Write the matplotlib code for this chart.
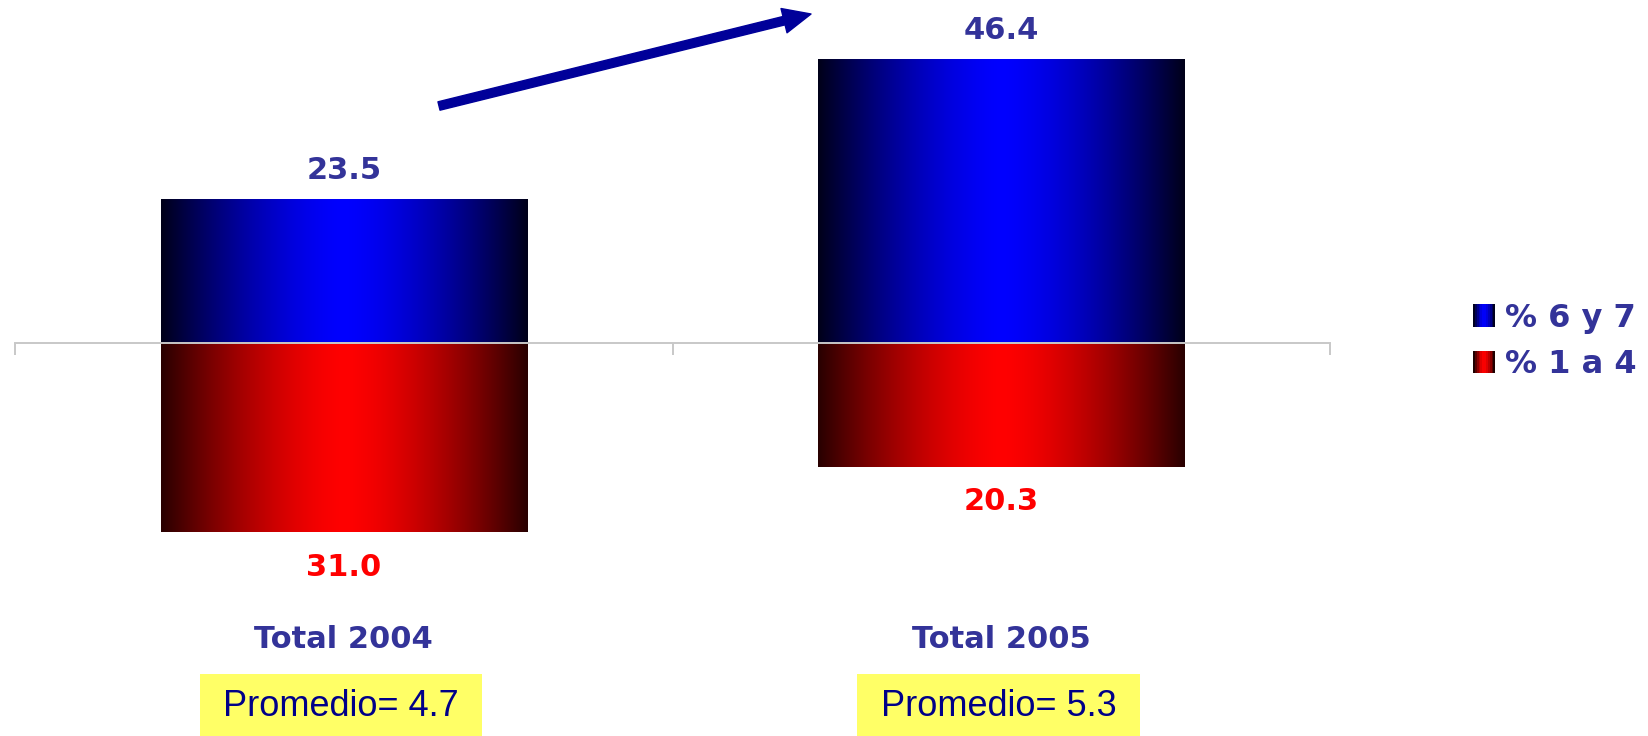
import matplotlib
matplotlib.use("Agg")
import matplotlib.pyplot as plt
import matplotlib.transforms as mtransforms
import numpy as np
from matplotlib.legend_handler import HandlerBase
from matplotlib.patches import FancyArrowPatch, Rectangle

categories = ["Total 2004", "Total 2005"]
pct_6_7 = [23.5, 46.4]
pct_1_4 = [31.0, 20.3]
promedio = [4.7, 5.3]
series_names = ["% 6 y 7", "% 1 a 4"]

LABEL_BLUE = "#333399"
NAVY = "#000099"


def gradient_row(rgb, n=256, edge=0.12):
    """Horizontal gradient: dark at the edges, full colour in the middle."""
    t = np.abs(np.linspace(-1, 1, n))
    k = edge + (1 - edge) * (1 - t ** 1.5)
    return np.array(rgb)[None, None, :] * k[None, :, None]


def fill_gradient(ax, patch, rgb, edge):
    bb = patch.get_bbox()
    ax.imshow(
        gradient_row(rgb, edge=edge),
        extent=[bb.x0, bb.x1, bb.y0, bb.y1],
        aspect="auto",
        interpolation="bilinear",
        zorder=2,
    )


class GradientHandler(HandlerBase):
    def create_artists(self, legend, orig_handle, xdescent, ydescent,
                       width, height, fontsize, trans):
        rgb = np.array(orig_handle.get_facecolor()[:3])
        n = 12
        t = np.abs(np.linspace(-1, 1, n))
        k = 0.12 + 0.88 * (1 - t ** 1.5)
        artists = []
        for i in range(n):
            r = Rectangle((-xdescent + i * width / n, -ydescent), width / n * 1.05,
                          height, facecolor=rgb * k[i], edgecolor="none",
                          transform=trans)
            artists.append(r)
        return artists


fig = plt.figure(figsize=(16.48, 7.36), dpi=100)
ax = fig.add_axes([15 / 1648, 0, 1315 / 1648, 1])
ax.set_xlim(-0.5, 1.5)
ax.set_ylim(-64.4, 56.2)

x = np.arange(len(categories))
width = 0.557

top = ax.bar(x, pct_6_7, width=width, color="none", edgecolor="none", linewidth=0)
bottom = ax.bar(x, [-v for v in pct_1_4], width=width, color="none",
                edgecolor="none", linewidth=0)
for p in top.patches:
    fill_gradient(ax, p, (0, 0, 1), 0.10)
for p in bottom.patches:
    fill_gradient(ax, p, (1, 0, 0), 0.16)

# axis line at zero, drawn over the bars
for s in ["top", "right", "left"]:
    ax.spines[s].set_visible(False)
ax.spines["bottom"].set_position(("data", 0))
ax.spines["bottom"].set_color("#C8C8C8")
ax.spines["bottom"].set_linewidth(1.4)
ax.spines["bottom"].set_zorder(5)
ax.set_xticks([-0.5, 0.5, 1.5])
ax.set_xticklabels([])
ax.tick_params(axis="x", direction="out", length=8.5, width=1.4, color="#C8C8C8")
ax.set_yticks([])

for xi, v in zip(x, pct_6_7):
    ax.annotate(f"{v:.1f}", (xi, v), xytext=(0, 29), textcoords="offset pixels",
                ha="center", va="center", fontsize=22, fontweight="bold",
                color=LABEL_BLUE)
for xi, v in zip(x, pct_1_4):
    ax.annotate(f"{v:.1f}", (xi, -v), xytext=(0, -35), textcoords="offset pixels",
                ha="center", va="center", fontsize=22, fontweight="bold",
                color="#FF0000")

trans = mtransforms.blended_transform_factory(ax.transData, ax.transAxes)
box_w = 0.43
for xi, cat, pm in zip(x, categories, promedio):
    ax.text(xi, 1 - 639 / 736, cat, transform=trans, ha="center", va="center",
            fontsize=22, fontweight="bold", color=LABEL_BLUE)
    ax.add_patch(Rectangle((xi - 0.004 - box_w / 2, 0), box_w, 62 / 736,
                           transform=trans, facecolor="#FFFF66",
                           edgecolor="none", zorder=3))
    ax.text(xi - 0.004, 29 / 736, f"Promedio= {pm:.1f}", transform=trans,
            ha="center", va="center", fontsize=26, family="Liberation Sans",
            color="#000088", zorder=4)

# trend arrow
arrow = FancyArrowPatch(
    (439 / 1648, 1 - 106 / 736), (811 / 1648, 1 - 14 / 736),
    transform=fig.transFigure,
    arrowstyle="simple,head_length=2.0,head_width=1.8,tail_width=0.62",
    mutation_scale=10, color=NAVY, shrinkA=0, shrinkB=0,
)
fig.patches.append(arrow)

handles = [Rectangle((0, 0), 1, 1, facecolor=(0, 0, 1)),
           Rectangle((0, 0), 1, 1, facecolor=(1, 0, 0))]
leg = fig.legend(handles, series_names, loc="center left",
                 bbox_to_anchor=(1473 / 1648, 1 - 341.5 / 736),
                 frameon=False, borderpad=0, borderaxespad=0,
                 handlelength=0.7, handleheight=0.7, handletextpad=0.3,
                 labelspacing=0.5, handler_map={Rectangle: GradientHandler()},
                 prop={"size": 23, "weight": "bold"})
for t in leg.get_texts():
    t.set_color(LABEL_BLUE)

fig.savefig("out.png", dpi=100)
